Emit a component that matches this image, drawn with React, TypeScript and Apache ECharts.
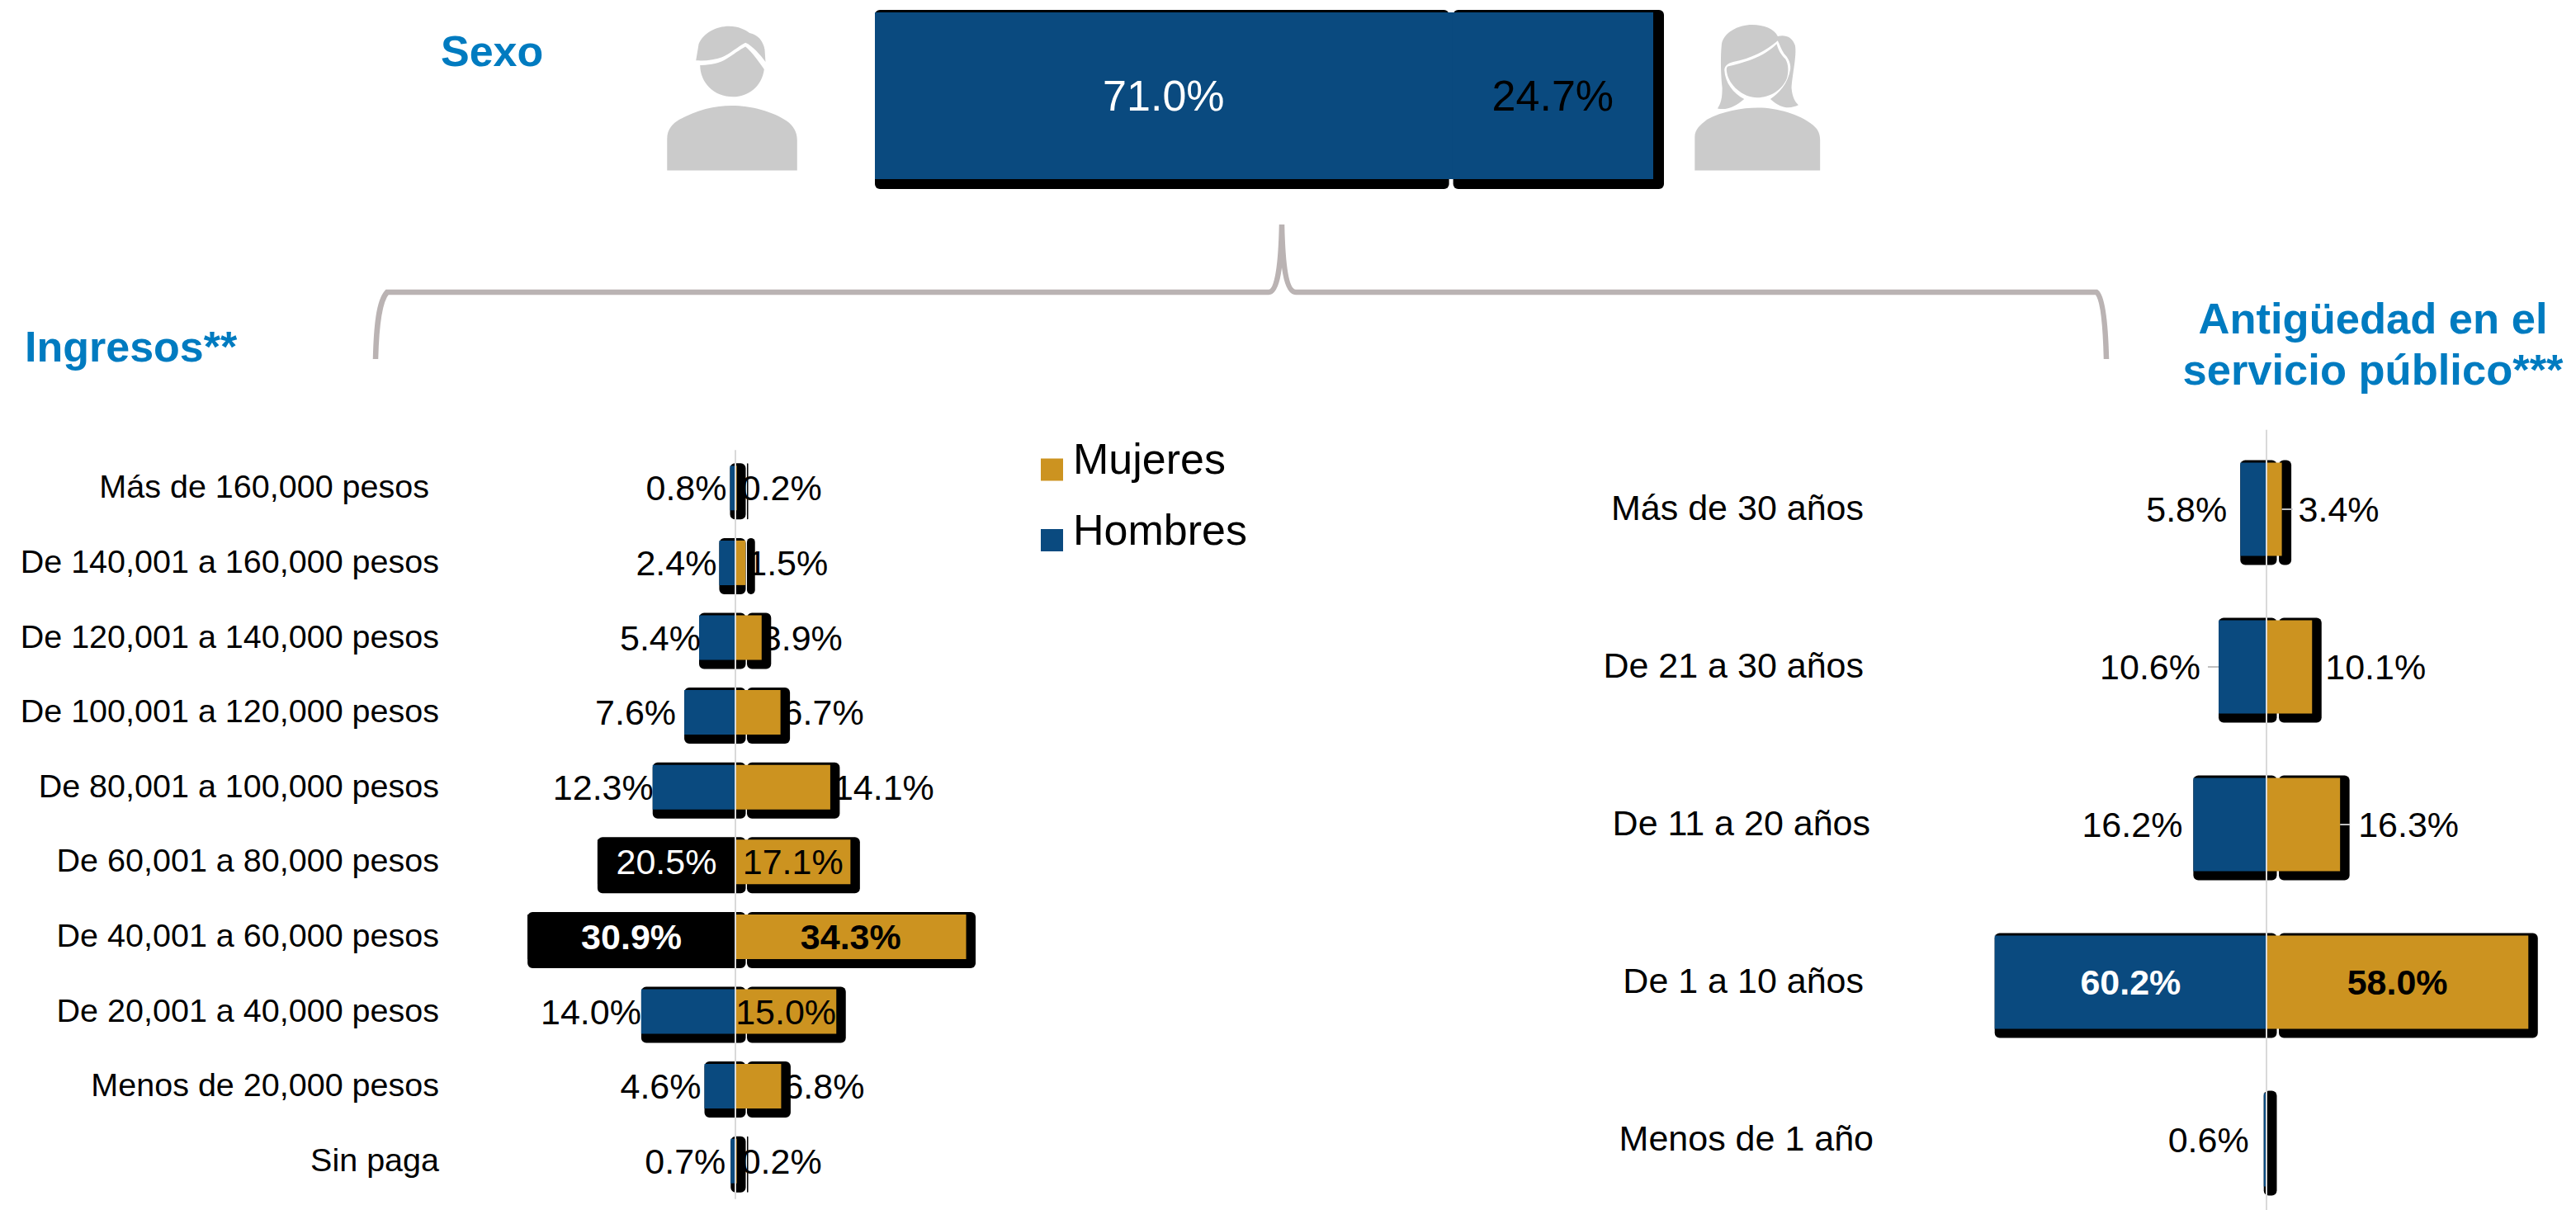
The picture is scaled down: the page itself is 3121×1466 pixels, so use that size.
import React, { useEffect, useRef } from "react";
import * as echarts from "echarts";

const BLUE = "#0A4A7F";
const GOLD = "#CC9320";
const FONT = "Liberation Sans";

// ---- data
const sexoCategories = ["Sexo"];
const sexoHombres = [71.0];
const sexoMujeres = [24.7];

const ingresosCategories = [
  "Más de 160,000 pesos",
  "De 140,001 a 160,000 pesos",
  "De 120,001 a 140,000 pesos",
  "De 100,001 a 120,000 pesos",
  "De 80,001 a 100,000 pesos",
  "De 60,001 a 80,000 pesos",
  "De 40,001 a 60,000 pesos",
  "De 20,001 a 40,000 pesos",
  "Menos de 20,000 pesos",
  "Sin paga",
];
const ingresosHombres = [0.8, 2.4, 5.4, 7.6, 12.3, 20.5, 30.9, 14.0, 4.6, 0.7];
const ingresosMujeres = [0.2, 1.5, 3.9, 6.7, 14.1, 17.1, 34.3, 15.0, 6.8, 0.2];

const antiguedadCategories = [
  "Más de 30 años",
  "De 21 a 30 años",
  "De 11 a 20 años",
  "De 1 a 10 años",
  "Menos de 1 año",
];
const antiguedadHombres = [5.8, 10.6, 16.2, 60.2, 0.6];
const antiguedadMujeres: (number | null)[] = [3.4, 10.1, 16.3, 58.0, null];

// ---- layout tables (label gaps in px), kept apart from the values
const ingresosHombresGap = [4, 3, -2, 10, -1, 0, 0, 0, 4, 6];
const ingresosMujeresGap = [5, 2, 0, 3, 4, 0, 0, 0, 3, 5];
const ingresosHombresInside = [5, 6];
const ingresosMujeresInside = [5, 6, 7];
const ingresosBold = [6];
const ingresosBlack = [5, 6];
const ingresosCatPad = [12, 0, 0, 0, 0, 0, 0, 0, 0, 0];

const antigHombresGap = [16, 22, 13, 0, 18];
const antigMujeresGap = [20, 16, 22, 0, 0];
const antigInside = [3];
const antigBold = [3];
const antigCatPad = [12, 12, 4, 12, 0];
const antigLeaders: [number, number, number][] = [
  [3.4, 0, 13],
  [-10.6, 1, -13],
  [16.3, 2, 12],
];

const MAN_BODY =
  "M205 590 L205 475 C205 440 225 420 250 405 C310 370 380 354 440 354 C510 354 590 375 640 410 C665 428 678 450 678 480 L678 590 Z " +
  "M325 207 C360 208 395 200 420 185 C445 170 470 150 490 140 C510 155 535 190 558 222 C550 285 500 322 445 322 C375 322 325 270 325 207 Z " +
  "M310 190 L320 130 C335 90 385 65 430 65 C465 65 490 78 505 90 C535 95 555 120 560 150 L563 195 C545 170 515 135 490 125 C460 140 435 165 405 178 C380 188 345 192 310 190 Z";
const WOMAN_BODY =
  "M70 590 L70 470 C70 440 90 425 115 405 C170 375 240 362 300 362 C370 362 450 385 500 425 C518 440 526 455 526 480 L526 590 Z " +
  "M190 212 C240 200 320 180 368 130 C375 155 385 170 400 185 C412 205 412 235 405 255 C390 295 345 325 297 325 C245 325 195 280 187 235 C185 222 185 217 190 212 Z " +
  "M168 130 C175 90 225 60 280 60 C320 60 360 75 372 102 C400 95 425 105 435 135 C442 170 425 240 422 290 C425 325 435 340 447 352 C420 365 385 368 345 330 C375 310 410 275 418 220 C420 195 405 175 395 165 C385 150 378 130 372 118 C330 155 270 185 210 195 C190 200 178 210 178 225 C180 270 210 310 250 330 C220 355 190 372 153 365 C165 345 170 330 170 290 C165 240 163 180 168 130 Z";
const BRACE =
  "M455 435 C456 395 459 365 469 354 L1537 354 C1548 354 1552 320 1553 272 C1554 320 1558 354 1570 354 L2540 354 C2548 360 2551 395 2552 435";

echarts.graphic.registerShape("manIcon", echarts.graphic.extendPath(MAN_BODY, {}));
echarts.graphic.registerShape("womanIcon", echarts.graphic.extendPath(WOMAN_BODY, {}));
echarts.graphic.registerShape("braceLine", echarts.graphic.extendPath(BRACE, {}));

const pct = (p: any) => Math.abs(p.value).toFixed(1) + "%";

function barData(
  values: (number | null)[],
  sign: number,
  gaps: number[],
  inside: number[],
  bold: number[],
  blackFill: number[],
  insideColor: string,
  fontSize: number
) {
  return values.map((v, i) => {
    if (v === null) return { value: null };
    const isInside = inside.includes(i);
    const item: any = {
      value: sign * v,
      label: {
        show: true,
        formatter: pct,
        fontFamily: FONT,
        fontSize,
        color: isInside ? insideColor : "#000",
        fontWeight: bold.includes(i) ? "bold" : "normal",
        position: isInside ? "inside" : sign < 0 ? "left" : "right",
        distance: isInside ? 0 : gaps[i],
      },
    };
    if (blackFill.includes(i)) item.itemStyle = { color: "#000" };
    return item;
  });
}

function shadow(
  xAxisIndex: number,
  rows: [number, number, number][],
  cfg: { pad0: number; pad1: number; h: number; top: number; bottom: number; r: number; fill?: string }
) {
  return {
    type: "custom",
    xAxisIndex,
    yAxisIndex: xAxisIndex,
    z: 1,
    silent: true,
    encode: { x: [0, 1], y: 2 },
    data: rows,
    renderItem: (_: any, api: any) => {
      const cat = api.value(2);
      const a = api.coord([api.value(0), cat]);
      const b = api.coord([api.value(1), cat]);
      const x0 = a[0] + cfg.pad0;
      const x1 = Math.max(b[0] + cfg.pad1, x0 + 1.5);
      return {
        type: "rect",
        shape: {
          x: x0,
          y: a[1] - cfg.h / 2 - cfg.top,
          width: x1 - x0,
          height: cfg.h + cfg.top + cfg.bottom,
          r: cfg.r,
        },
        style: { fill: cfg.fill || "#000" },
      };
    },
  };
}

function catAxis(gridIndex: number, data: string[], margin: number, pads: number[], fontSize: number, show = true) {
  const rich: any = {};
  pads.forEach((p) => {
    rich["p" + p] = { padding: [0, p, 4, 0], fontFamily: FONT, fontSize, color: "#000" };
  });
  return {
    type: "category",
    gridIndex,
    inverse: true,
    data,
    z: 4,
    axisTick: { show: false },
    axisLine: { show, onZero: true, lineStyle: { color: "#D9D9D9", width: 2 } },
    axisLabel: {
      show,
      interval: 0,
      margin,
      align: "right",
      fontFamily: FONT,
      fontSize,
      color: "#000",
      formatter: (v: string, i: number) => `{p${pads[i]}|${v}}`,
      rich,
    },
  };
}

const valAxis = (gridIndex: number, min: number, max: number) => ({
  type: "value",
  gridIndex,
  min,
  max,
  show: false,
  splitLine: { show: false },
});

const option: any = {
  animation: false,
  backgroundColor: "#fff",
  title: [
    { text: "Sexo", left: 534, top: 36, padding: 0, textStyle: { fontFamily: FONT, fontSize: 52, fontWeight: "bold", color: "#007BC0" } },
    { text: "Ingresos**", left: 30, top: 394, padding: 0, textStyle: { fontFamily: FONT, fontSize: 52, fontWeight: "bold", color: "#007BC0" } },
    {
      text: "Antigüedad en el\nservicio público***",
      left: 2875,
      top: 354,
      padding: 0,
      textAlign: "center",
      textStyle: { fontFamily: FONT, fontSize: 52.5, lineHeight: 62, fontWeight: "bold", color: "#007BC0" },
    },
  ],
  legend: {
    left: 1261,
    top: 530,
    orient: "vertical",
    selectedMode: false,
    itemWidth: 27,
    itemHeight: 27,
    itemGap: 33,
    padding: 0,
    icon: "rect",
    data: ["Mujeres", "Hombres"],
    formatter: "{a|{name}}",
    textStyle: {
      fontFamily: FONT,
      fontSize: 52,
      color: "#000",
      rich: { a: { fontFamily: FONT, fontSize: 52, color: "#000", padding: [0, 0, 26, 7] } },
    },
  },
  grid: [
    { left: 565, width: 652, top: 546, height: 906, outerBoundsMode: "none" },
    { left: 2390.45, width: 711.1, top: 521.5, height: 955, outerBoundsMode: "none" },
    { left: 1060, width: 943, top: 15, height: 202, outerBoundsMode: "none" },
  ],
  xAxis: [valAxis(0, -40, 40), valAxis(1, -65, 65), valAxis(2, 0, 95.7)],
  yAxis: [
    catAxis(0, ingresosCategories, 33, ingresosCatPad, 39.5),
    catAxis(1, antiguedadCategories, 120.45, antigCatPad, 43),
    catAxis(2, sexoCategories, 0, [0], 10, false),
  ],
  graphic: {
    elements: [
      { type: "braceLine", x: 0, y: 0, z: 0, silent: true, style: { fill: "none", stroke: "#BAB3B3", lineWidth: 6.5 } },
      { type: "manIcon", x: 740, y: 10, scaleX: 1 / 3, scaleY: 1 / 3, silent: true, style: { fill: "#CBCBCB" } },
      { type: "womanIcon", x: 2030, y: 10, scaleX: 1 / 3, scaleY: 1 / 3, silent: true, style: { fill: "#CBCBCB" } },
    ],
  },
  series: [
    {
      name: "Mujeres",
      type: "bar",
      stack: "ing",
      z: 2,
      xAxisIndex: 0,
      yAxisIndex: 0,
      barWidth: 54,
      itemStyle: { color: GOLD },
      data: barData(ingresosMujeres, 1, ingresosMujeresGap, ingresosMujeresInside, ingresosBold, [], "#000", 43),
    },
    {
      name: "Hombres",
      type: "bar",
      stack: "ing",
      z: 2,
      xAxisIndex: 0,
      yAxisIndex: 0,
      barWidth: 54,
      itemStyle: { color: BLUE },
      data: barData(ingresosHombres, -1, ingresosHombresGap, ingresosHombresInside, ingresosBold, ingresosBlack, "#fff", 43),
    },
    {
      name: "Mujeres",
      type: "bar",
      stack: "ant",
      z: 2,
      xAxisIndex: 1,
      yAxisIndex: 1,
      barWidth: 113,
      itemStyle: { color: GOLD },
      data: barData(antiguedadMujeres, 1, antigMujeresGap, antigInside, antigBold, [], "#000", 43),
    },
    {
      name: "Hombres",
      type: "bar",
      stack: "ant",
      z: 2,
      xAxisIndex: 1,
      yAxisIndex: 1,
      barWidth: 113,
      itemStyle: { color: BLUE },
      data: barData(antiguedadHombres, -1, antigHombresGap, antigInside, antigBold, [], "#fff", 43),
    },
    {
      name: "Hombres",
      type: "bar",
      stack: "sexo",
      z: 2,
      xAxisIndex: 2,
      yAxisIndex: 2,
      barWidth: 202,
      itemStyle: { color: BLUE },
      data: barData(sexoHombres, 1, [0], [0], [], [], "#fff", 52),
    },
    {
      name: "Mujeres",
      type: "bar",
      stack: "sexo",
      z: 2,
      xAxisIndex: 2,
      yAxisIndex: 2,
      barWidth: 202,
      itemStyle: { color: BLUE },
      data: barData(sexoMujeres, 1, [0], [0], [], [], "#000", 52),
    },
    shadow(0, ingresosHombres.map((v, i) => [-v, 0, i] as [number, number, number]), { pad0: 0, pad1: 12.5, h: 54, top: 3, bottom: 11, r: 6 }),
    shadow(0, ingresosMujeres.map((v, i) => [0, v, i] as [number, number, number]), { pad0: 14, pad1: 11.5, h: 54, top: 3, bottom: 11, r: 6 }),
    shadow(1, antiguedadHombres.map((v, i) => [-v, 0, i] as [number, number, number]), { pad0: 0, pad1: 12.5, h: 113, top: 3, bottom: 11, r: 6 }),
    shadow(
      1,
      antiguedadMujeres.flatMap((v, i) => (v === null ? [] : [[0, v, i] as [number, number, number]])),
      { pad0: 15, pad1: 11.5, h: 113, top: 3, bottom: 11, r: 6 }
    ),
    shadow(2, [[0, sexoHombres[0], 0]], { pad0: 0, pad1: -4, h: 202, top: 3, bottom: 12, r: 6 }),
    shadow(2, [[sexoHombres[0], sexoHombres[0] + sexoMujeres[0], 0]], { pad0: 1, pad1: 13, h: 202, top: 3, bottom: 12, r: 6 }),
    shadow(2, [[0, sexoHombres[0] + sexoMujeres[0], 0]], { pad0: 0, pad1: 0, h: 202, top: 0, bottom: 0, r: 0, fill: BLUE }),
    {
      type: "custom",
      xAxisIndex: 1,
      yAxisIndex: 1,
      z: 3,
      silent: true,
      encode: { x: 0, y: 1 },
      data: antigLeaders,
      renderItem: (_: any, api: any) => {
        const p = api.coord([api.value(0), api.value(1)]);
        return {
          type: "line",
          shape: { x1: p[0], y1: p[1], x2: p[0] + api.value(2), y2: p[1] },
          style: { stroke: "#BFBFBF", lineWidth: 2 },
        };
      },
    },
  ],
};

export default function App() {
  const ref = useRef<HTMLDivElement>(null);
  useEffect(() => {
    document.body.style.margin = "0";
    document.body.style.overflow = "hidden";
    const chart = echarts.init(ref.current!, undefined, { renderer: "svg" });
    chart.setOption(option);
    return () => chart.dispose();
  }, []);
  return <div ref={ref} style={{ width: 3121, height: 1466 }} />;
}
